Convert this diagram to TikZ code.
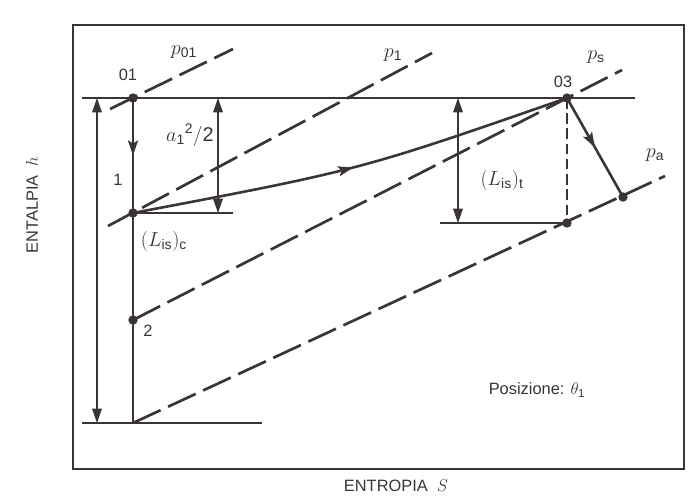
\documentclass[tikz,border=0pt]{standalone}
\usepackage{amsmath}
\usepackage{fontspec}
\setmainfont{Liberation Sans}
\usetikzlibrary{
  positioning,
  arrows.meta,
  decorations.markings
}
\definecolor{ink}{HTML}{3A3434}

\begin{document}
\begin{tikzpicture}[
  x=0.03cm, y=-0.03cm,
  every node/.style={font=\fontsize{14}{16}\selectfont, text=ink},
  mathlabel/.style={font=\fontsize{17}{19}\selectfont},
  dot/.style={
    circle, fill=ink, inner sep=0pt, minimum size=8pt
  },
  thinline/.style={draw=ink, line width=0.9pt},
  isobar/.style={draw=ink, line width=2.3pt, dash pattern=on 26pt off 7pt},
  process/.style={
    draw=ink, line width=2.2pt, postaction={decorate},
    decoration={markings, mark=at position 0.5 with
      {\arrow[ink]{Stealth[length=4.5mm, width=3mm, inset=0.9mm]}}}
  },
  dimarrow/.style={
    thinline,
    {Triangle[length=4.3mm, width=2.9mm]}-{Triangle[length=4.3mm, width=2.9mm]}
  }
]
 \useasboundingbox (0,0) rectangle (692,501);

 % Frame
 \draw[ink, line width=2.2pt] (73,25) rectangle (684,469);

 % State points
 \node[dot] (s01) at (133,98) {};
 \node[dot] (s1) at (133,213) {};
 \node[dot] (s2) at (133,320) {};
 \node[dot] (s03) at (567,98) {};
 \node[dot] (s4) at (623,197) {};
 \node[dot] (s4is) at (567,223) {};
 \coordinate (s0) at (133,423);

 % Free ends of the isobars
 \coordinate (p01a) at (110,109);
 \coordinate (p01b) at (233,49);
 \coordinate (p1a) at (108,226);
 \coordinate (p1b) at (432,53);
 \coordinate (psb) at (622,70);
 \coordinate (pab) at (665,176);

 % Free ends of the reference lines
 \coordinate (hTopL) at (82,98);
 \coordinate (hTopR) at (635,98);
 \coordinate (h1R) at (233,213);
 \coordinate (hBotL) at (82,423);
 \coordinate (hBotR) at (262,423);
 \coordinate (htL) at (440,223);

 \draw[thinline] (hTopL) -- (hTopR);
 \draw[thinline] (s1.center) -- (h1R);
 \draw[thinline] (hBotL) -- (hBotR);
 \draw[thinline] (htL) -- (s4is.center);
 \draw[thinline] (s1.center) -- (s0);
 \draw[thinline, dash pattern=on 9pt off 4pt] (s03.center) -- (s4is.center);

 % Dimension arrows
 \coordinate (dA1) at (97,98);
 \coordinate (dA2) at (97,423);
 \coordinate (dB1) at (218,98);
 \coordinate (dB2) at (218,213);
 \coordinate (dC1) at (458,98);
 \coordinate (dC2) at (458,223);
 \draw[dimarrow] (dA1) -- (dA2);
 \draw[dimarrow] (dB1) -- (dB2);
 \draw[dimarrow] (dC1) -- (dC2);

 % Isobars
 \draw[isobar] (p01a) -- (p01b);
 \draw[isobar] (p1a) -- (p1b);
 \draw[isobar] (s2.center) -- (psb);
 \draw[isobar] (s0) -- (pab);

 % Processes
 \draw[process] (s01.center) -- (s1.center);
 \draw[process] (s1.center) .. controls (360,170) .. (s03.center);
 \draw[process] (s03.center) -- (s4.center);

 % Labels
 \node (l01) at (128,75) {01};
 \node[mathlabel] (lp01) at (184,52) {$p_{\text{01}}$};
 \node (l1) at (118,180) {1};
 \node[mathlabel, anchor=east, inner sep=1pt] (la1) at (215,135) {$a_{\text{1}}{}^{\text{2}}/\text{2}$};
 \node[mathlabel] (lLc) at (164,241) {$(L_{\text{is}})_{\text{c}}$};
 \node (l2) at (148,331) {2};
 \node[mathlabel] (lp1) at (393,55) {$p_{\text{1}}$};
 \node (l03) at (563,82) {03};
 \node[mathlabel] (lps) at (596,57) {$p_{\text{s}}$};
 \node[mathlabel] (lpa) at (655,155) {$p_{\text{a}}$};
 \node[mathlabel] (lLt) at (502,180) {$(L_{\text{is}})_{\text{t}}$};
 \node (lpos) at (537,390) {Posizione: $\theta_{\text{1}}$};
 \node (lS) at (396,486) {ENTROPIA~~$S$};
 \node[rotate=90] (lh) at (32,205) {ENTALPIA~~$h$};
\end{tikzpicture}
\end{document}
